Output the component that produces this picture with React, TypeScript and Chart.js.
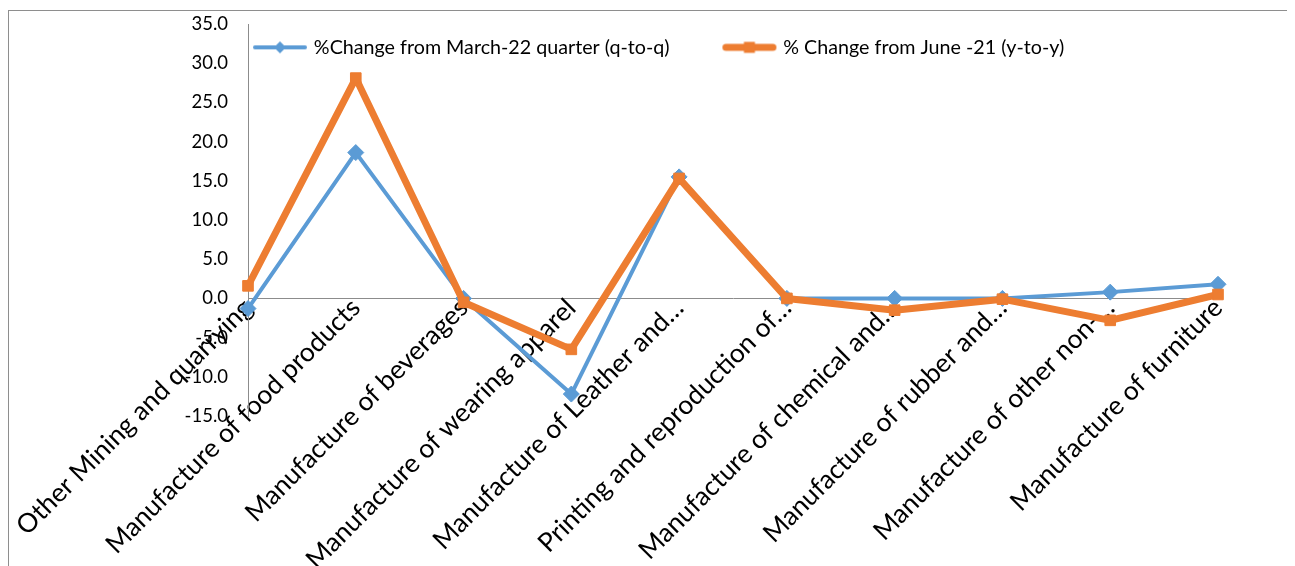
import React, { useEffect, useRef } from "react";
import { Chart, registerables } from "chart.js";

Chart.register(...registerables);

const categories = [
  "Other Mining and quarrying",
  "Manufacture of food products",
  "Manufacture of beverages",
  "Manufacture of wearing apparel",
  "Manufacture of Leather and…",
  "Printing and reproduction of…",
  "Manufacture of chemical and…",
  "Manufacture of rubber and…",
  "Manufacture of other non-…",
  "Manufacture of furniture",
];
const qToQValues = [-1.3, 18.6, 0.0, -12.2, 15.5, 0.0, 0.0, 0.0, 0.8, 1.8];
const yToYValues = [1.6, 28.1, -0.5, -6.5, 15.3, 0.0, -1.5, -0.1, -2.8, 0.5];
const seriesLabels = [
  "%Change from March-22 quarter (q-to-q)",
  "% Change from June -21 (y-to-y)",
];
const yMin = -15;
const yMax = 35;
const yStep = 5;

const BLUE = "#5B9BD5";
const ORANGE = "#ED7D31";
const AXIS = "#8C8C8C";
const FONT = "Lato, 'Open Sans', sans-serif";

const LEG_PAD = 56;
const LEG_BOX = 48;

function makeLegendImage(color: string, lineWidth: number, marker: string, m: number) {
  const c = document.createElement("canvas");
  c.width = 56;
  c.height = 18;
  const ctx = c.getContext("2d")!;
  ctx.strokeStyle = color;
  ctx.fillStyle = color;
  ctx.lineWidth = lineWidth;
  ctx.lineCap = "round";
  ctx.beginPath();
  ctx.moveTo(lineWidth / 2 + 1, 9);
  ctx.lineTo(56 - lineWidth / 2 - 1, 9);
  ctx.stroke();
  ctx.beginPath();
  if (marker === "diamond") {
    ctx.moveTo(28, 9 - m);
    ctx.lineTo(28 + m, 9);
    ctx.lineTo(28, 9 + m);
    ctx.lineTo(28 - m, 9);
    ctx.closePath();
    ctx.fill();
  } else {
    ctx.fillRect(28 - m, 9 - m, 2 * m, 2 * m);
  }
  return c;
}

// Legend sits inside the plot area (as in the original Excel chart):
// it takes no layout space and is placed over the chart area.
const legendInside = {
  id: "legendInside",
  beforeLayout(chart: any) {
    const lg = chart.legend;
    if (!lg || lg._inside) return;
    const origFit = lg.fit.bind(lg);
    lg.fit = function () {
      origFit();
      this.height = 0;
    };
    lg._inside = true;
  },
  afterLayout(chart: any) {
    const lg = chart.legend;
    if (!lg) return;
    const ca = chart.chartArea;
    lg.left = ca.left + 8 - LEG_PAD;
    lg.right = ca.left + 3000;
    lg.top = ca.top + 13.5 - LEG_PAD;
    lg.bottom = ca.top + 80;
    lg.width = lg.right - lg.left;
    lg.height = lg.bottom - lg.top;
  },
};

export default function App() {
  const ref = useRef<HTMLCanvasElement>(null);
  useEffect(() => {
    document.documentElement.style.overflow = "hidden";
    document.body.style.overflow = "hidden";
    const canvas = ref.current!;
    const legendImgs = [
      makeLegendImage(BLUE, 4, "diamond", 6),
      makeLegendImage(ORANGE, 7, "square", 5.5),
    ];
    const chart = new Chart(canvas, {
      type: "line",
      data: {
        labels: categories,
        datasets: [
          {
            label: seriesLabels[0],
            data: qToQValues,
            borderColor: BLUE,
            backgroundColor: BLUE,
            borderWidth: 4,
            borderJoinStyle: "round",
            borderCapStyle: "round",
            pointStyle: "rectRot",
            pointRadius: 8,
            pointBorderWidth: 1,
            pointBackgroundColor: BLUE,
            pointBorderColor: BLUE,
            tension: 0,
            clip: false,
            order: 1,
          },
          {
            label: seriesLabels[1],
            data: yToYValues,
            borderColor: ORANGE,
            backgroundColor: ORANGE,
            borderWidth: 7,
            borderJoinStyle: "round",
            borderCapStyle: "round",
            pointStyle: "rect",
            pointRadius: 7.5,
            pointBorderWidth: 1,
            pointBackgroundColor: ORANGE,
            pointBorderColor: ORANGE,
            tension: 0,
            clip: false,
            order: 0,
          },
        ] as any,
      },
      options: {
        responsive: false,
        animation: false,
        devicePixelRatio: 1,
        layout: { padding: { left: 0, top: 13, right: 77, bottom: 150 } },
        plugins: {
          tooltip: { enabled: false },
          legend: {
            position: "top",
            align: "start",
            labels: {
              usePointStyle: true,
              pointStyleWidth: LEG_BOX,
              padding: LEG_PAD,
              color: "#000",
              font: { family: FONT, size: 19.7 },
              generateLabels: (c: any) =>
                c.data.datasets.map((ds: any, i: number) => ({
                  text: ds.label,
                  fillStyle: ds.borderColor,
                  strokeStyle: ds.borderColor,
                  lineWidth: 0,
                  pointStyle: legendImgs[i],
                  hidden: false,
                  datasetIndex: i,
                  fontColor: "#000",
                })),
            },
          },
        },
        scales: {
          x: {
            type: "category",
            position: { y: 0 } as any,
            offset: false,
            grid: { display: false, drawTicks: false },
            border: { display: true, color: AXIS, width: 1 },
            ticks: {
              autoSkip: false,
              minRotation: 45,
              maxRotation: 45,
              padding: -6,
              color: "#000",
              font: { family: FONT, size: 26.3 },
            },
            afterFit: (s: any) => {
              s.paddingLeft = 0;
              s.paddingRight = 0;
              s.paddingTop = 0;
              s.paddingBottom = 0;
            },
          },
          y: {
            min: yMin,
            max: yMax,
            ticks: {
              stepSize: yStep,
              padding: 20,
              color: "#000",
              font: { family: FONT, size: 18.5 },
              callback: (v: any) => Number(v).toFixed(1),
            },
            grid: { display: false, drawTicks: false },
            border: { display: true, color: AXIS, width: 1 },
            afterFit: (s: any) => {
              s.width = 239;
              s.paddingTop = 0;
              s.paddingBottom = 0;
            },
          },
        },
      },
      plugins: [legendInside],
    });
    return () => chart.destroy();
  }, []);
  return (
    <div
      style={{
        marginTop: 2,
        borderLeft: "1px solid #8e8e8e",
        borderTop: "1px solid #8e8e8e",
        width: 1300,
        height: 570,
      }}
    >
      <canvas ref={ref} width={1286} height={555} style={{ display: "block" }} />
    </div>
  );
}
